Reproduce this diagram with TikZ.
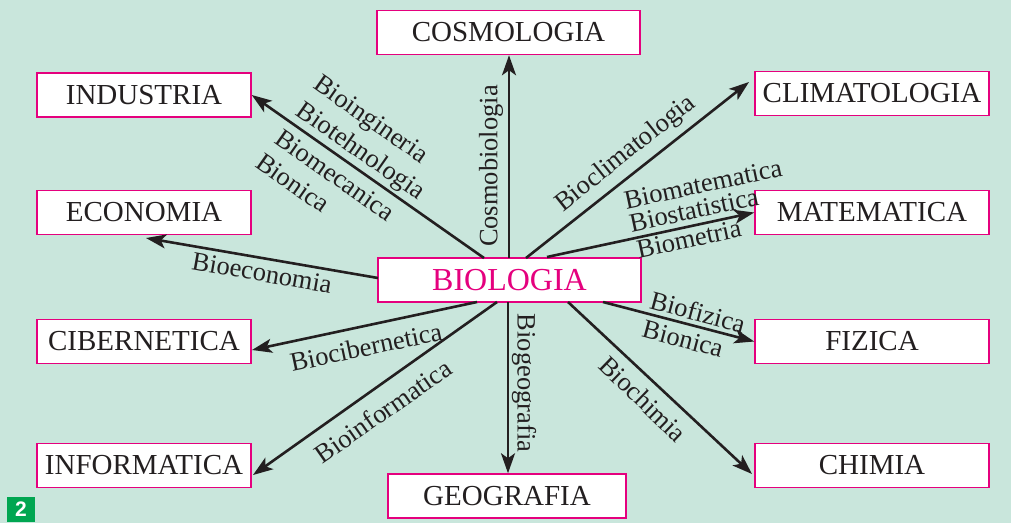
\documentclass[tikz,border=0pt]{standalone}
\usepackage{fontspec}
\setmainfont{Liberation Serif}
\newfontfamily\badgefont{Liberation Sans}
\usetikzlibrary{arrows.meta}
\definecolor{bgc}{RGB}{201,230,220}
\definecolor{pinkc}{RGB}{229,0,126}
\definecolor{badgec}{RGB}{0,166,81}
\definecolor{txtc}{RGB}{35,31,32}
\begin{document}
\begin{tikzpicture}[x=1pt,y=-1pt,
  box/.style={draw=pinkc, fill=white, line width=1.5pt, inner sep=0pt, minimum height=44pt, text=txtc, font=\fontsize{29}{32}\selectfont},
  lbl/.style={inner sep=0pt, text=txtc, font=\fontsize{26.5}{30}\selectfont},
  arr/.style={draw=txtc, line width=2.6pt, -{Stealth[length=20pt,width=14pt,inset=5pt]}}]
\fill[bgc] (0,0) rectangle (1011,523);
\useasboundingbox (0,0) rectangle (1011,523);
% boxes
\node[box, minimum width=263pt] (cos) at (508.5,32.5) {COSMOLOGIA};
\node[box, minimum width=214pt] (ind) at (144,95) {INDUSTRIA};
\node[box, minimum width=214pt] (eco) at (144,212.5) {ECONOMIA};
\node[box, minimum width=214pt] (cib) at (144,341.5) {CIBERNETICA};
\node[box, minimum width=214pt] (inf) at (144,465.5) {INFORMATICA};
\node[box, minimum width=234pt] (cli) at (872,93.5) {CLIMATOLOGIA};
\node[box, minimum width=234pt] (mat) at (872,212.5) {MATEMATICA};
\node[box, minimum width=234pt] (fiz) at (872,341.5) {FIZICA};
\node[box, minimum width=234pt] (chi) at (872,465.5) {CHIMIA};
\node[box, minimum width=238pt] (geo) at (507,496) {GEOGRAFIA};
\node[box, minimum width=263pt, text=pinkc, font=\fontsize{32}{35}\selectfont] (bio) at (509.5,280) {BIOLOGIA};
% connector end points
\coordinate (sInd) at (484,258);
\coordinate (sCli) at (526,258);
\coordinate (sMat) at (547,257);
\coordinate (sEco) at (378,278);
\coordinate (sCib) at (477,302);
\coordinate (sInf) at (497,302);
\coordinate (sFiz) at (603,302);
\coordinate (sChi) at (568,302);
\coordinate (sCos) at (509,258);
\coordinate (sGeo) at (508,302);
\coordinate (eCli) at (749,82);
\coordinate (eEco) at (146,238);
\coordinate (eCib) at (252,350);
\coordinate (eInf) at (253,475);
\coordinate (eChi) at (752,474);
% connectors
\draw[arr] (sCos) -- (sCos |- cos.south);
\draw[arr] (sGeo) -- (sGeo |- geo.north);
\draw[arr] (sInd) -- (ind.east);
\draw[arr] (sCli) -- (eCli);
\draw[arr] (sMat) -- (mat.west);
\draw[arr] (sEco) -- (eEco);
\draw[arr] (sCib) -- (eCib);
\draw[arr] (sInf) -- (eInf);
\draw[arr] (sFiz) -- (fiz.west);
\draw[arr] (sChi) -- (eChi);
% labels
\node[lbl, rotate=90] (lCos) at (491,166) {Cosmobiologia};
\node[lbl, rotate=-90] (lGeo) at (524,383) {Biogeografia};
\node[lbl, rotate=38.5] (lCli) at (626,154) {Bioclimatologia};
\node[lbl, rotate=12] (lMat1) at (703,184) {Biomatematica};
\node[lbl, rotate=12] (lMat2) at (694,210) {Biostatistica};
\node[lbl, rotate=12] (lMat3) at (689,239) {Biometria};
\node[lbl, rotate=-15] (lFiz1) at (698,312) {Biofizica};
\node[lbl, rotate=-15] (lFiz2) at (683,339) {Bionica};
\node[lbl, rotate=-44] (lChi) at (643,399) {Biochimia};
\node[lbl, rotate=35] (lInf) at (383,411) {Bioinformatica};
\node[lbl, rotate=12] (lCib) at (366,347) {Biocibernetica};
\node[lbl, rotate=-10] (lEco) at (262,273) {Bioeconomia};
\node[lbl, rotate=-35] (lInd1) at (370,121) {Bioingineria};
\node[lbl, rotate=-35] (lInd2) at (360,152) {Biotehnologia};
\node[lbl, rotate=-35] (lInd3) at (335,175) {Biomecanica};
\node[lbl, rotate=-35] (lInd4) at (293,183) {Bionica};
% badge
\fill[badgec] (7,497) rectangle (35,522);
\node[text=white, inner sep=0pt, font=\badgefont\bfseries\fontsize{21}{22}\selectfont] (badge) at (21,509.5) {2};
\end{tikzpicture}
\end{document}
